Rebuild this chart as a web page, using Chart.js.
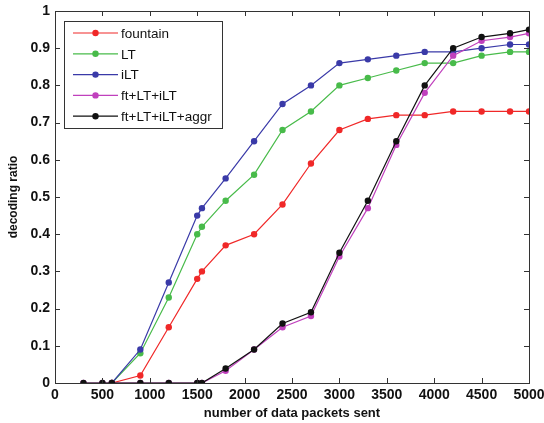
<!DOCTYPE html>
<html>
<head>
<meta charset="utf-8">
<script src="https://cdn.jsdelivr.net/npm/chart.js@4/dist/chart.umd.min.js"></script>
<style>
  body { margin: 0; background: #fff; }
  #wrap { width: 544px; height: 423px; }
</style>
</head>
<body>
<div id="wrap"><canvas id="decodingChart" width="544" height="423"></canvas></div>
<script>
// packets sent
var xsMain = [600, 900, 1200, 1500, 1550, 1800, 2100, 2400, 2700, 3000, 3300, 3600, 3900, 4200, 4500, 4800, 5000];
var xsComb = [300, 500, 600, 900, 1200, 1500, 1550, 1800, 2100, 2400, 2700, 3000, 3300, 3600, 3900, 4200, 4500, 4800, 5000];

var fountain = [0, 0.02, 0.15, 0.28, 0.30, 0.37, 0.40, 0.48, 0.59, 0.68, 0.71, 0.72, 0.72, 0.73, 0.73, 0.73, 0.73];
var lt       = [0, 0.08, 0.23, 0.40, 0.42, 0.49, 0.56, 0.68, 0.73, 0.80, 0.82, 0.84, 0.86, 0.86, 0.88, 0.89, 0.89];
var ilt      = [0, 0.09, 0.27, 0.45, 0.47, 0.55, 0.65, 0.75, 0.80, 0.86, 0.87, 0.88, 0.89, 0.89, 0.90, 0.91, 0.91];
var ftLtIlt  = [0, 0, 0, 0, 0, 0, 0, 0.033, 0.09, 0.15, 0.18, 0.34, 0.47, 0.64, 0.78, 0.88, 0.92, 0.93, 0.94];
var ftAggr   = [0, 0, 0, 0, 0, 0, 0, 0.039, 0.09, 0.16, 0.19, 0.35, 0.49, 0.65, 0.80, 0.90, 0.93, 0.94, 0.95];

var xTicks = [0, 500, 1000, 1500, 2000, 2500, 3000, 3500, 4000, 4500, 5000];
var yTicks = [0, 0.1, 0.2, 0.3, 0.4, 0.5, 0.6, 0.7, 0.8, 0.9, 1];

var FONT = '"Liberation Sans", Arial, sans-serif';

function pts(xs, ys) {
    return xs.map(function (x, i) { return { x: x, y: ys[i] }; });
}

// later series go on top, like matlab
function series(label, xs, ys, color, order) {
    return {
        label: label,
        data: pts(xs, ys),
        order: order,
        borderColor: color,
        backgroundColor: color,
        borderWidth: 1.2,
        pointRadius: 3.2,
        pointBorderWidth: 0,
        pointHoverRadius: 3.2,
        tension: 0
    };
}

// matlab style box, inward ticks and legend
var matlabFrame = {
    id: 'matlabFrame',
    afterDraw: function (chart) {
        var ctx = chart.ctx;
        var a = chart.chartArea;
        var xs = chart.scales.x, ys = chart.scales.y;
        ctx.save();
        ctx.strokeStyle = '#333';
        ctx.lineWidth = 1;
        ctx.strokeRect(a.left + 0.5, a.top + 0.5, a.right - a.left, a.bottom - a.top);
        var t = 5;
        xTicks.forEach(function (v) {
            var px = Math.round(xs.getPixelForValue(v)) + 0.5;
            ctx.beginPath();
            ctx.moveTo(px, a.bottom); ctx.lineTo(px, a.bottom - t);
            ctx.moveTo(px, a.top); ctx.lineTo(px, a.top + t);
            ctx.stroke();
        });
        yTicks.forEach(function (v) {
            var py = Math.round(ys.getPixelForValue(v)) + 0.5;
            ctx.beginPath();
            ctx.moveTo(a.left, py); ctx.lineTo(a.left + t, py);
            ctx.moveTo(a.right, py); ctx.lineTo(a.right - t, py);
            ctx.stroke();
        });

        // legend
        var bx = 64.5, by = 21.5, bw = 158, bh = 107;
        ctx.fillStyle = '#fff';
        ctx.fillRect(bx, by, bw, bh);
        ctx.strokeStyle = '#333';
        ctx.strokeRect(bx, by, bw, bh);
        ctx.font = '13.5px ' + FONT;
        ctx.textBaseline = 'middle';
        chart.data.datasets.forEach(function (ds, i) {
            var y = 33 + i * 20.8;
            ctx.strokeStyle = ds.borderColor;
            ctx.lineWidth = 1.2;
            ctx.beginPath();
            ctx.moveTo(73, y); ctx.lineTo(118, y);
            ctx.stroke();
            ctx.fillStyle = ds.backgroundColor;
            ctx.beginPath();
            ctx.arc(95.5, y, 3.2, 0, Math.PI * 2);
            ctx.fill();
            ctx.fillStyle = '#111';
            ctx.fillText(ds.label, 121, y + 1);
        });
        ctx.restore();
    }
};

var ctx = document.getElementById('decodingChart').getContext('2d');
var chart = new Chart(ctx, {
    type: 'line',
    data: {
        datasets: [
            series('fountain', xsMain, fountain, '#f02828', 5),
            series('LT', xsMain, lt, '#48bb4a', 4),
            series('iLT', xsMain, ilt, '#3a3aa8', 3),
            series('ft+LT+iLT', xsComb, ftLtIlt, '#c040bd', 2),
            series('ft+LT+iLT+aggr', xsComb, ftAggr, '#111111', 1)
        ]
    },
    options: {
        responsive: false,
        animation: false,
        layout: { padding: { top: 11, right: 15, left: 0, bottom: 0 } },
        plugins: {
            legend: { display: false },
            tooltip: { enabled: false }
        },
        scales: {
            x: {
                type: 'linear',
                min: 0,
                max: 5000,
                afterBuildTicks: function (s) { s.ticks = xTicks.map(function (v) { return { value: v }; }); },
                afterFit: function (s) { s.height = 40; s.paddingLeft = 0; s.paddingRight = 0; },
                grid: { display: false, drawTicks: false },
                border: { display: false },
                ticks: {
                    color: '#111',
                    padding: 4,
                    maxRotation: 0,
                    font: { family: FONT, size: 14, weight: 'bold' },
                    callback: function (v) { return String(v); }
                },
                title: {
                    display: true,
                    text: 'number of data packets sent',
                    color: '#111',
                    padding: { top: 0, bottom: 2 },
                    font: { family: FONT, size: 13, weight: 'bold' }
                }
            },
            y: {
                type: 'linear',
                min: 0,
                max: 1,
                afterBuildTicks: function (s) { s.ticks = yTicks.map(function (v) { return { value: v }; }); },
                afterFit: function (s) { s.width = 55; s.paddingTop = 0; s.paddingBottom = 0; },
                grid: { display: false, drawTicks: false },
                border: { display: false },
                ticks: {
                    color: '#111',
                    padding: 5,
                    font: { family: FONT, size: 14, weight: 'bold' },
                    callback: function (v) { return String(v); }
                },
                title: {
                    display: true,
                    text: 'decoding ratio',
                    color: '#111',
                    padding: { top: 6, bottom: 0 },
                    font: { family: FONT, size: 12, weight: 'bold' }
                }
            }
        }
    },
    plugins: [matlabFrame]
});
</script>
</body>
</html>
